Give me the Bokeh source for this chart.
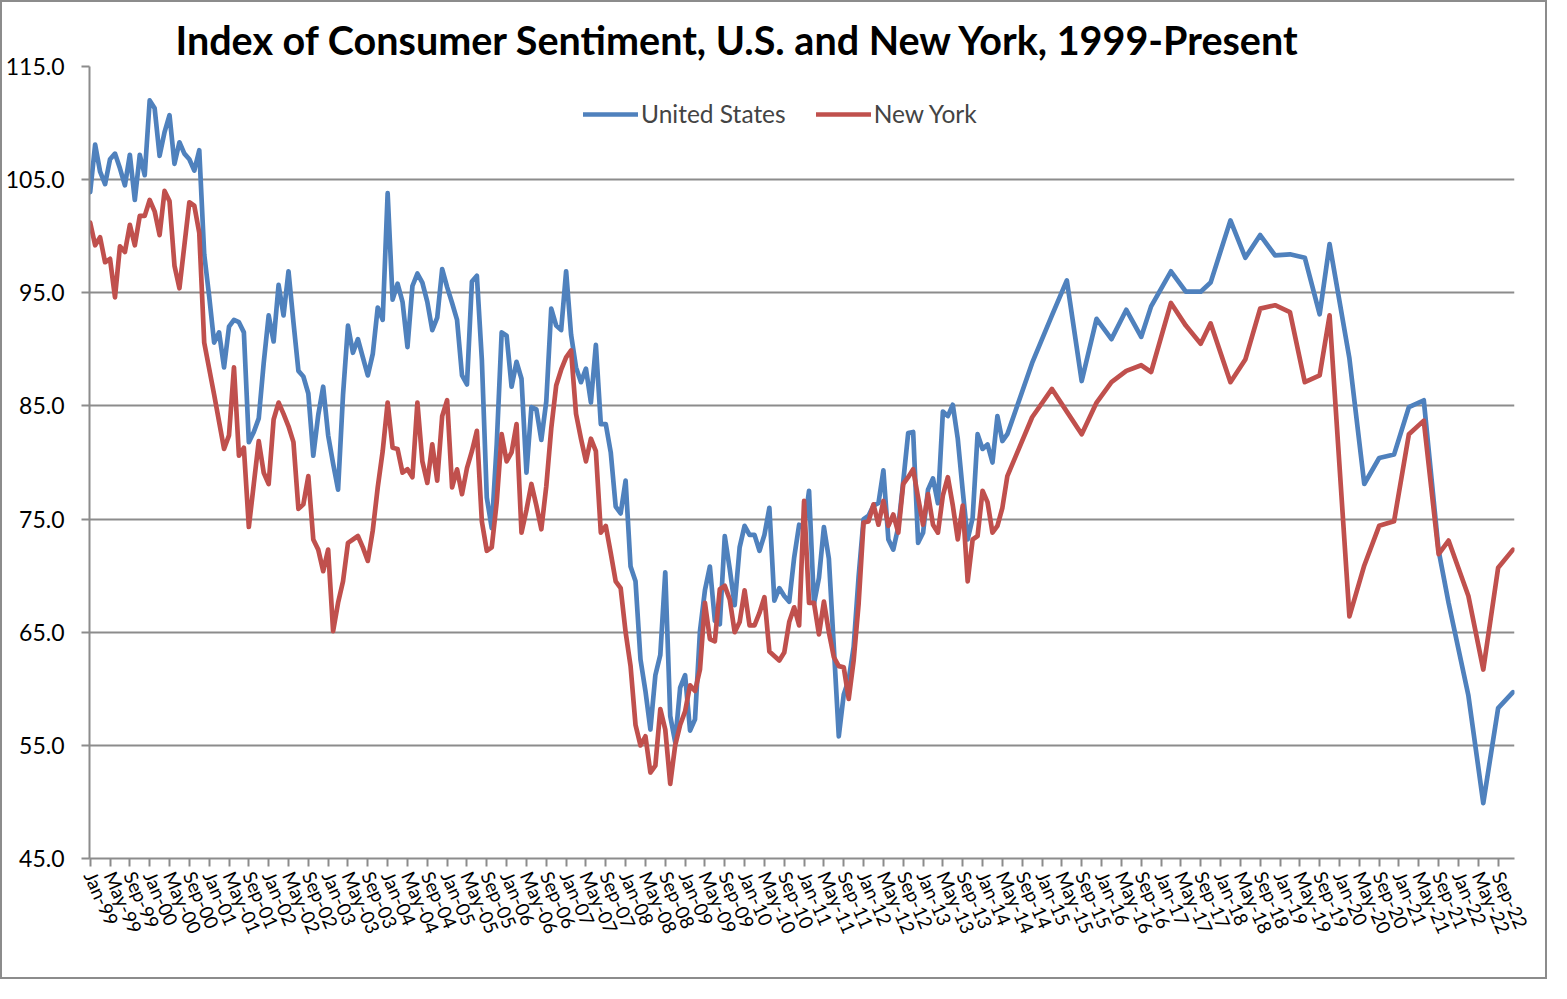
from bokeh.plotting import figure
from bokeh.models import FixedTicker, NumeralTickFormatter, Legend, LegendItem
from bokeh.embed import file_html
from bokeh.resources import INLINE

MONTHS = ["Jan", "Feb", "Mar", "Apr", "May", "Jun", "Jul", "Aug", "Sep", "Oct", "Nov", "Dec"]

# Monthly readings, Jan-99 .. Jun-14
us_monthly = [
    103.9, 108.1, 105.7, 104.6, 106.8, 107.3, 106.0, 104.5, 107.2, 103.2, 107.2, 105.4,
    112.0, 111.3, 107.1, 109.2, 110.7, 106.4, 108.3, 107.3, 106.8, 105.8, 107.6, 98.4,
    94.7, 90.6, 91.5, 88.4, 92.0, 92.6, 92.4, 91.5, 81.8, 82.7, 83.9, 88.8,
    93.0, 90.7, 95.7, 93.0, 96.9, 92.4, 88.1, 87.6, 86.1, 80.6, 84.2, 86.7,
    82.4, 79.9, 77.6, 86.0, 92.1, 89.7, 90.9, 89.3, 87.7, 89.6, 93.7, 92.6,
    103.8, 94.4, 95.8, 94.2, 90.2, 95.6, 96.7, 95.9, 94.2, 91.7, 92.8, 97.1,
    95.5, 94.1, 92.6, 87.7, 86.9, 96.0, 96.5, 89.1, 76.9, 74.2, 81.6, 91.5,
    91.2, 86.7, 88.9, 87.4, 79.1, 84.9, 84.7, 82.0, 85.4, 93.6, 92.1, 91.7,
    96.9, 91.3, 88.4, 87.1, 88.3, 85.3, 90.4, 83.4, 83.4, 80.9, 76.1, 75.5,
    78.4, 70.8, 69.5, 62.6, 59.8, 56.4, 61.2, 63.0, 70.3, 57.6, 55.3, 60.1,
    61.2, 56.3, 57.3, 65.1, 68.7, 70.8, 66.0, 65.7, 73.5, 70.6, 67.4, 72.5,
    74.4, 73.6, 73.6, 72.2, 73.6, 76.0, 67.8, 68.9, 68.2, 67.7, 71.6, 74.5,
    74.2, 77.5, 67.5, 69.8, 74.3, 71.5, 63.7, 55.8, 59.5, 60.8, 63.7, 69.9,
    75.0, 75.3, 76.2, 76.4, 79.3, 73.2, 72.3, 74.3, 78.3, 82.6, 82.7, 72.9,
    73.8, 77.6, 78.6, 76.4, 84.5, 84.1, 85.1, 82.1, 77.5, 73.2, 75.1, 82.5,
    81.2, 81.6, 80.0, 84.1, 81.9, 82.5,
]

ny_monthly = [
    101.2, 99.2, 99.9, 97.7, 98.0, 94.6, 99.1, 98.6, 101.0, 99.2, 101.8, 101.8,
    103.2, 102.2, 100.1, 104.0, 103.1, 97.4, 95.4, 99.2, 103.0, 102.7, 100.3, 90.6,
    88.3, 86.0, 83.6, 81.2, 82.4, 88.4, 80.6, 81.3, 74.3, 78.1, 81.9, 79.1,
    78.1, 83.8, 85.3, 84.3, 83.2, 81.8, 75.9, 76.3, 78.8, 73.2, 72.3, 70.4,
    72.3, 65.1, 67.6, 69.5, 72.9, 73.2, 73.5, 72.5, 71.3, 74.0, 77.8, 81.0,
    85.3, 81.3, 81.2, 79.1, 79.4, 78.7, 85.3, 80.1, 78.2, 81.6, 78.4, 84.1,
    85.5, 77.8, 79.4, 77.2, 79.5, 81.0, 82.8, 74.8, 72.2, 72.5, 76.5, 82.5,
    80.1, 80.9, 83.4, 73.8, 75.8, 78.1, 76.2, 74.1, 77.9, 83.0, 86.8, 88.2,
    89.3, 89.9, 84.3, 82.1, 80.1, 82.1, 81.0, 73.8, 74.4, 72.0, 69.5, 68.9,
    65.0, 62.0, 56.8, 55.0, 55.8, 52.6, 53.2, 58.2, 56.4, 51.6, 55.0, 56.8,
    58.0, 60.3, 59.8, 61.7, 67.6, 64.4, 64.2, 68.8, 69.1, 67.9, 65.0, 65.9,
    68.7, 65.6, 65.6, 66.7, 68.1, 63.3, 62.9, 62.5, 63.2, 65.9, 67.2, 65.6,
    76.6, 67.6, 67.6, 64.8, 67.7, 65.0, 62.8, 62.0, 61.9, 59.1, 62.5, 67.5,
    74.7, 74.8, 76.3, 74.5, 76.6, 74.4, 75.4, 73.8, 78.1, 78.7, 79.4, 76.9,
    74.5, 77.2, 74.5, 73.8, 77.1, 78.7, 76.2, 73.2, 76.2, 69.5, 73.2, 73.5,
    77.5, 76.5, 73.8, 74.4, 76.0, 78.8,
]

# Less frequent readings after mid-2014
sparse_dates = [
    "Nov-14", "Mar-15", "Jun-15", "Sep-15", "Dec-15", "Mar-16", "Jun-16", "Sep-16",
    "Nov-16", "Mar-17", "Jun-17", "Sep-17", "Nov-17", "Mar-18", "Jun-18", "Sep-18",
    "Dec-18", "Mar-19", "Jun-19", "Sep-19", "Nov-19", "Mar-20", "Jun-20", "Sep-20",
    "Dec-20", "Mar-21", "Jun-21", "Sep-21", "Nov-21", "Mar-22", "Jun-22", "Sep-22",
    "Dec-22",
]
us_sparse = [
    88.8, 93.0, 96.1, 87.2, 92.7, 90.9, 93.5, 91.1,
    93.8, 96.9, 95.1, 95.1, 95.9, 101.4, 98.1, 100.1,
    98.3, 98.4, 98.1, 93.1, 99.3, 89.2, 78.1, 80.4,
    80.7, 84.9, 85.5, 72.2, 67.6, 59.4, 49.9, 58.3,
    59.7,
]
ny_sparse = [
    84.0, 86.5, 84.5, 82.5, 85.3, 87.1, 88.1, 88.6,
    88.0, 94.1, 92.1, 90.5, 92.3, 87.1, 89.1, 93.6,
    93.9, 93.3, 87.1, 87.7, 93.0, 66.4, 70.9, 74.4,
    74.8, 82.5, 83.7, 71.9, 73.1, 68.2, 61.7, 70.7,
    72.3,
]

y_ticks = [45, 55, 65, 75, 85, 95, 105, 115]


def month_index(label):
    mon, yy = label.split("-")
    year = 2000 + int(yy) if int(yy) < 50 else 1900 + int(yy)
    return (year - 1999) * 12 + MONTHS.index(mon)


def month_label(m):
    return "%s-%02d" % (MONTHS[m % 12], (1999 + m // 12) % 100)


x_monthly = list(range(len(us_monthly)))
x_sparse = [month_index(d) for d in sparse_dates]
x_all = x_monthly + x_sparse
us_all = us_monthly + us_sparse
ny_all = ny_monthly + ny_sparse

x_ticks = list(range(0, 285, 4))

p = figure(
    width=1547, height=979,
    x_range=(-0.14, 287.3), y_range=(45, 115),
    output_backend="svg", toolbar_location=None,
    min_border_left=86, min_border_right=35, min_border_top=64, min_border_bottom=123,
)
p.styles = {"border": "2px solid #8c8c8c"}

p.title.text = "Index of Consumer Sentiment, U.S. and New York, 1999-Present"
p.title.text_font = "Lato"
p.title.text_font_size = "39.5px"
p.title.text_font_style = "bold"
p.title.align = "left"
p.title.offset = 86
p.title.standoff = 8
p.title.text_color = "black"

BLUE = "#4F81BD"
RED = "#C0504D"
GRID = "#8c8c8c"

r_us = p.line(x_all, us_all, line_color=BLUE, line_width=4.7, line_join="round", line_cap="round")
r_ny = p.line(x_all, ny_all, line_color=RED, line_width=4.7, line_join="round", line_cap="round")

legend = Legend(
    items=[LegendItem(label="United States", renderers=[r_us]),
           LegendItem(label="New York", renderers=[r_ny])],
    orientation="horizontal", location=(494, 730),
    border_line_color=None, background_fill_alpha=0,
    label_text_font="Lato", label_text_font_size="24.5px",
    glyph_width=55, glyph_height=24, label_standoff=3, spacing=30,
    padding=0, margin=0,
)
p.add_layout(legend, "center")

p.outline_line_color = None
p.xgrid.grid_line_color = None
p.ygrid.grid_line_color = GRID
p.ygrid.grid_line_width = 2
p.ygrid.ticker = FixedTicker(ticks=y_ticks)

for ax in (p.xaxis[0], p.yaxis[0]):
    ax.axis_line_color = GRID
    ax.axis_line_width = 2
    ax.major_tick_line_color = GRID
    ax.major_tick_line_width = 2
    ax.major_tick_in = 0
    ax.major_tick_out = 8
    ax.minor_tick_line_color = None
    ax.major_label_text_font = "Lato"
    ax.major_label_text_color = "black"

p.yaxis.ticker = FixedTicker(ticks=y_ticks)
p.yaxis.formatter = NumeralTickFormatter(format="0.0")
p.yaxis.major_label_text_font_size = "23px"
p.yaxis.major_label_standoff = 17

p.xaxis.ticker = FixedTicker(ticks=x_ticks)
p.xaxis.major_label_overrides = {m: month_label(m) for m in x_ticks}
p.xaxis.major_label_orientation = -1.15
p.xaxis.major_label_text_font_size = "19px"
p.xaxis.major_label_standoff = 6

open("out.html", "w").write(file_html(p, INLINE))
